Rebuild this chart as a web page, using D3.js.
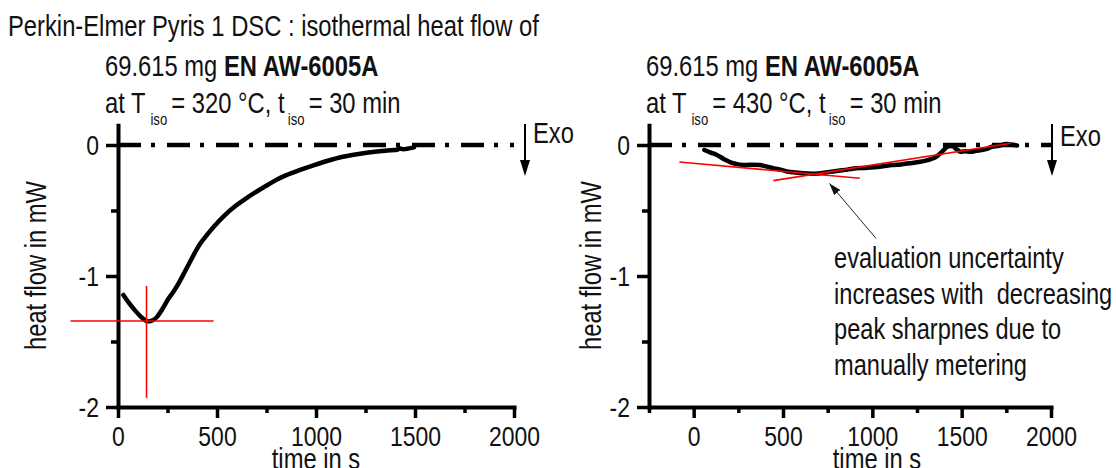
<!DOCTYPE html>
<html>
<head>
<meta charset="utf-8">
<script src="https://cdn.jsdelivr.net/npm/d3@7"></script>
<style>
  html, body { margin: 0; padding: 0; background: #fff; }
  svg { display: block; }
  text { white-space: pre; }
</style>
</head>
<body>
<svg id="chart" width="1116" height="468"></svg>
<script>
// ---- isothermal run at 320 °C ----
const time320 = [27, 60, 90, 115, 135, 144, 160, 180, 198, 225, 252, 280, 306, 333, 360, 387, 414, 450, 486, 540, 585, 631, 685, 739, 793, 847, 920, 991, 1060, 1135, 1215, 1297, 1360, 1410, 1425, 1440, 1495];
const flow320 = [-1.145, -1.215, -1.27, -1.31, -1.335, -1.345, -1.345, -1.335, -1.31, -1.25, -1.18, -1.12, -1.056, -0.98, -0.903, -0.825, -0.755, -0.685, -0.62, -0.535, -0.475, -0.425, -0.37, -0.32, -0.272, -0.232, -0.19, -0.153, -0.12, -0.09, -0.068, -0.051, -0.042, -0.036, -0.027, -0.032, -0.018];

// ---- isothermal run at 430 °C ----
const time430 = [60, 95, 130, 170, 210, 250, 290, 330, 370, 410, 450, 490, 530, 570, 610, 660, 710, 760, 810, 860, 910, 960, 1010, 1060, 1110, 1160, 1210, 1260, 1310, 1345, 1370, 1395, 1420, 1450, 1470, 1490, 1520, 1550, 1580, 1610, 1640, 1670, 1710, 1750, 1780, 1810];
const flow430 = [-0.038, -0.058, -0.076, -0.108, -0.135, -0.148, -0.153, -0.15, -0.153, -0.165, -0.178, -0.19, -0.204, -0.21, -0.216, -0.22, -0.216, -0.205, -0.196, -0.188, -0.178, -0.175, -0.17, -0.162, -0.153, -0.148, -0.14, -0.13, -0.115, -0.1, -0.076, -0.045, -0.013, -0.01, -0.03, -0.051, -0.048, -0.051, -0.045, -0.038, -0.03, -0.013, -0.006, 0.008, 0.002, -0.003];

// peak read-off cross (320 °C)
const peakTime320 = 144;
const peakFlow320 = -1.344;
const crossH320 = [[-240, peakFlow320], [483, peakFlow320]];
const crossV320 = [[peakTime320, -1.076], [peakTime320, -1.93]];

// tangent construction (430 °C)
const tangentA430 = [[-80, -0.13], [930, -0.254]];
const tangentB430 = [[446, -0.272], [1774, 0.013]];
const pointer430 = [[1020, -0.712], [760, -0.293]];

// axis ticks
const yMajor = [0, -1, -2];
const yMinor = [-0.5, -1.5];
const xMajor = [0, 500, 1000, 1500, 2000];
const xMinorL = [250, 750, 1250, 1750];
const xMinorR = [-250, 250, 750, 1250, 1750];

// text
const titleText = "Perkin-Elmer Pyris 1 DSC : isothermal heat flow of";
const sampleMass = "69.615 mg ";
const sampleName = "EN AW-6005A";
const tempL = "320";
const tempR = "430";
const note430 = ["evaluation uncertainty", "increases with  decreasing", "peak sharpnes due to", "manually metering"];

const svg = d3.select("#chart");

// choose a condensed face; fall back to a horizontally squeezed regular face
const probe = svg.append("text").attr("font-size", 100).text("Perkin-Elmer heat flow");
probe.attr("font-family", "'Liberation Sans'");
const wReg = probe.node().getComputedTextLength();
probe.attr("font-family", "'Liberation Sans Narrow', 'Liberation Sans'");
const wNar = probe.node().getComputedTextLength();
probe.remove();
const narrow = wNar < wReg * 0.9;
const FONT = narrow ? "'Liberation Sans Narrow', 'Arial Narrow', sans-serif" : "'Liberation Sans', Arial, sans-serif";
const SX = narrow ? 1 : 0.82;

function label(parent, x, y, size, opts = {}) {
  const rot = opts.rotate ? ` rotate(${opts.rotate})` : "";
  return parent.append("text")
    .attr("transform", `translate(${x},${y})${rot} scale(${SX},1)`)
    .attr("font-family", FONT)
    .attr("font-size", size)
    .attr("fill", "#111")
    .attr("text-anchor", opts.anchor || "start");
}

const y = d3.scaleLinear().domain([-2, 0.15]).range([407, 407 - 2.15 * 131]);
const xL = d3.scaleLinear().domain([0, 2000]).range([118, 514]);
const xR = d3.scaleLinear().domain([-250, 2000]).range([649, 1051]);

function drawAxes(x, minorX) {
  const g = svg.append("g");
  const yAx = g.append("g").attr("transform", `translate(${x.range()[0]},0)`)
    .call(d3.axisLeft(y).tickValues(yMajor).tickSize(12).tickPadding(7).tickSizeOuter(0).tickFormat(d => String(d)));
  g.append("g").attr("transform", `translate(${x.range()[0]},0)`)
    .call(d3.axisLeft(y).tickValues(yMinor).tickSize(7).tickSizeOuter(0).tickFormat(""))
    .select(".domain").remove();
  const xAx = g.append("g").attr("transform", `translate(0,${y(-2)})`)
    .call(d3.axisBottom(x).tickValues(xMajor).tickSize(11).tickSizeOuter(0).tickFormat(d => String(d)));
  g.append("g").attr("transform", `translate(0,${y(-2)})`)
    .call(d3.axisBottom(x).tickValues(minorX).tickSize(6).tickSizeOuter(0).tickFormat(""))
    .select(".domain").remove();

  g.selectAll(".domain").attr("stroke", "#000").attr("stroke-width", 4).attr("stroke-linecap", "square");
  g.selectAll(".tick line").attr("stroke", "#000").attr("stroke-width", 3.5);
  yAx.selectAll(".tick text")
    .attr("font-family", FONT).attr("font-size", 28).attr("fill", "#111")
    .attr("x", -19 / SX).attr("dy", "0.34em")
    .attr("transform", `scale(${SX},1)`);
  xAx.selectAll(".tick text")
    .attr("font-family", FONT).attr("font-size", 28).attr("fill", "#111")
    .attr("y", 39).attr("dy", 0)
    .attr("transform", `scale(${SX},1)`);
  return g;
}

function drawPanel(opts) {
  const { x, minorX, times, flows, temp, textX, yLabelX, xLabelX, exoX, exoY } = opts;
  drawAxes(x, minorX);

  // zero baseline
  svg.append("line")
    .attr("x1", x(x.domain()[0])).attr("x2", x(2000))
    .attr("y1", y(0)).attr("y2", y(0))
    .attr("stroke", "#000").attr("stroke-width", 4.5)
    .attr("stroke-dasharray", "23,10,4,12");

  // heat-flow trace
  const line = d3.line().x(d => x(d[0])).y(d => y(d[1])).curve(d3.curveCatmullRom.alpha(0.5));
  svg.append("path")
    .datum(times.map((t, i) => [t, flows[i]]))
    .attr("d", line)
    .attr("fill", "none").attr("stroke", "#000")
    .attr("stroke-width", 4.5).attr("stroke-linejoin", "round").attr("stroke-linecap", "round");

  // headings
  const t2 = label(svg, textX, 76, 29);
  t2.append("tspan").text(sampleMass);
  t2.append("tspan").attr("font-weight", "bold").text(sampleName);
  const t3 = label(svg, textX, 113, 29);
  t3.append("tspan").text("at T");
  t3.append("tspan").attr("font-size", 16).attr("dx", 6).attr("dy", 12).text("iso");
  t3.append("tspan").attr("dx", 5).attr("dy", -12).text(`= ${temp} °C, t`);
  t3.append("tspan").attr("font-size", 16).attr("dx", 4).attr("dy", 12).text("iso");
  t3.append("tspan").attr("dx", 5).attr("dy", -12).text("= 30 min");

  // axis titles
  label(svg, yLabelX, y(-0.92), 29, { rotate: -90, anchor: "middle" }).text("heat flow in mW");
  label(svg, xLabelX, 469, 29, { anchor: "middle" }).text("time in s");

  // exothermic direction marker
  svg.append("line").attr("x1", exoX).attr("x2", exoX).attr("y1", 124).attr("y2", 162)
    .attr("stroke", "#000").attr("stroke-width", 2);
  svg.append("path")
    .attr("d", `M${exoX - 5},160 L${exoX + 5},160 L${exoX},176 Z`)
    .attr("fill", "#000");
  label(svg, exoX + 8, exoY, 29).text("Exo");
}

drawPanel({ x: xL, minorX: xMinorL, times: time320, flows: flow320, temp: tempL,
  textX: 105, yLabelX: 46, xLabelX: xL(1000), exoX: 525, exoY: 143 });
drawPanel({ x: xR, minorX: xMinorR, times: time430, flows: flow430, temp: tempR,
  textX: 646, yLabelX: 601, xLabelX: 877, exoX: 1052, exoY: 146 });

// red read-off construction lines
const redLine = d3.line();
function red(x, pts) {
  svg.append("path").attr("d", redLine(pts.map(p => [x(p[0]), y(p[1])])))
    .attr("fill", "none").attr("stroke", "#ff0000").attr("stroke-width", 1.6);
}
red(xL, crossH320);
red(xL, crossV320);
red(xR, tangentA430);
red(xR, tangentB430);

// pointer to the tangent intersection
const defs = svg.append("defs");
defs.append("marker").attr("id", "head")
  .attr("viewBox", "0 0 12 8").attr("refX", 12).attr("refY", 4)
  .attr("markerWidth", 12).attr("markerHeight", 8).attr("markerUnits", "userSpaceOnUse")
  .attr("orient", "auto")
  .append("path").attr("d", "M0,0 L12,4 L0,8 Z").attr("fill", "#111");
svg.append("line")
  .attr("x1", xR(pointer430[0][0])).attr("y1", y(pointer430[0][1]))
  .attr("x2", xR(pointer430[1][0])).attr("y2", y(pointer430[1][1]))
  .attr("stroke", "#222").attr("stroke-width", 1)
  .attr("marker-end", "url(#head)");

// annotation
note430.forEach((s, i) => label(svg, 834, 268 + i * 35.5, 28.8).text(s));

// main title
label(svg, 8, 36, 29).text(titleText);
</script>
</body>
</html>
